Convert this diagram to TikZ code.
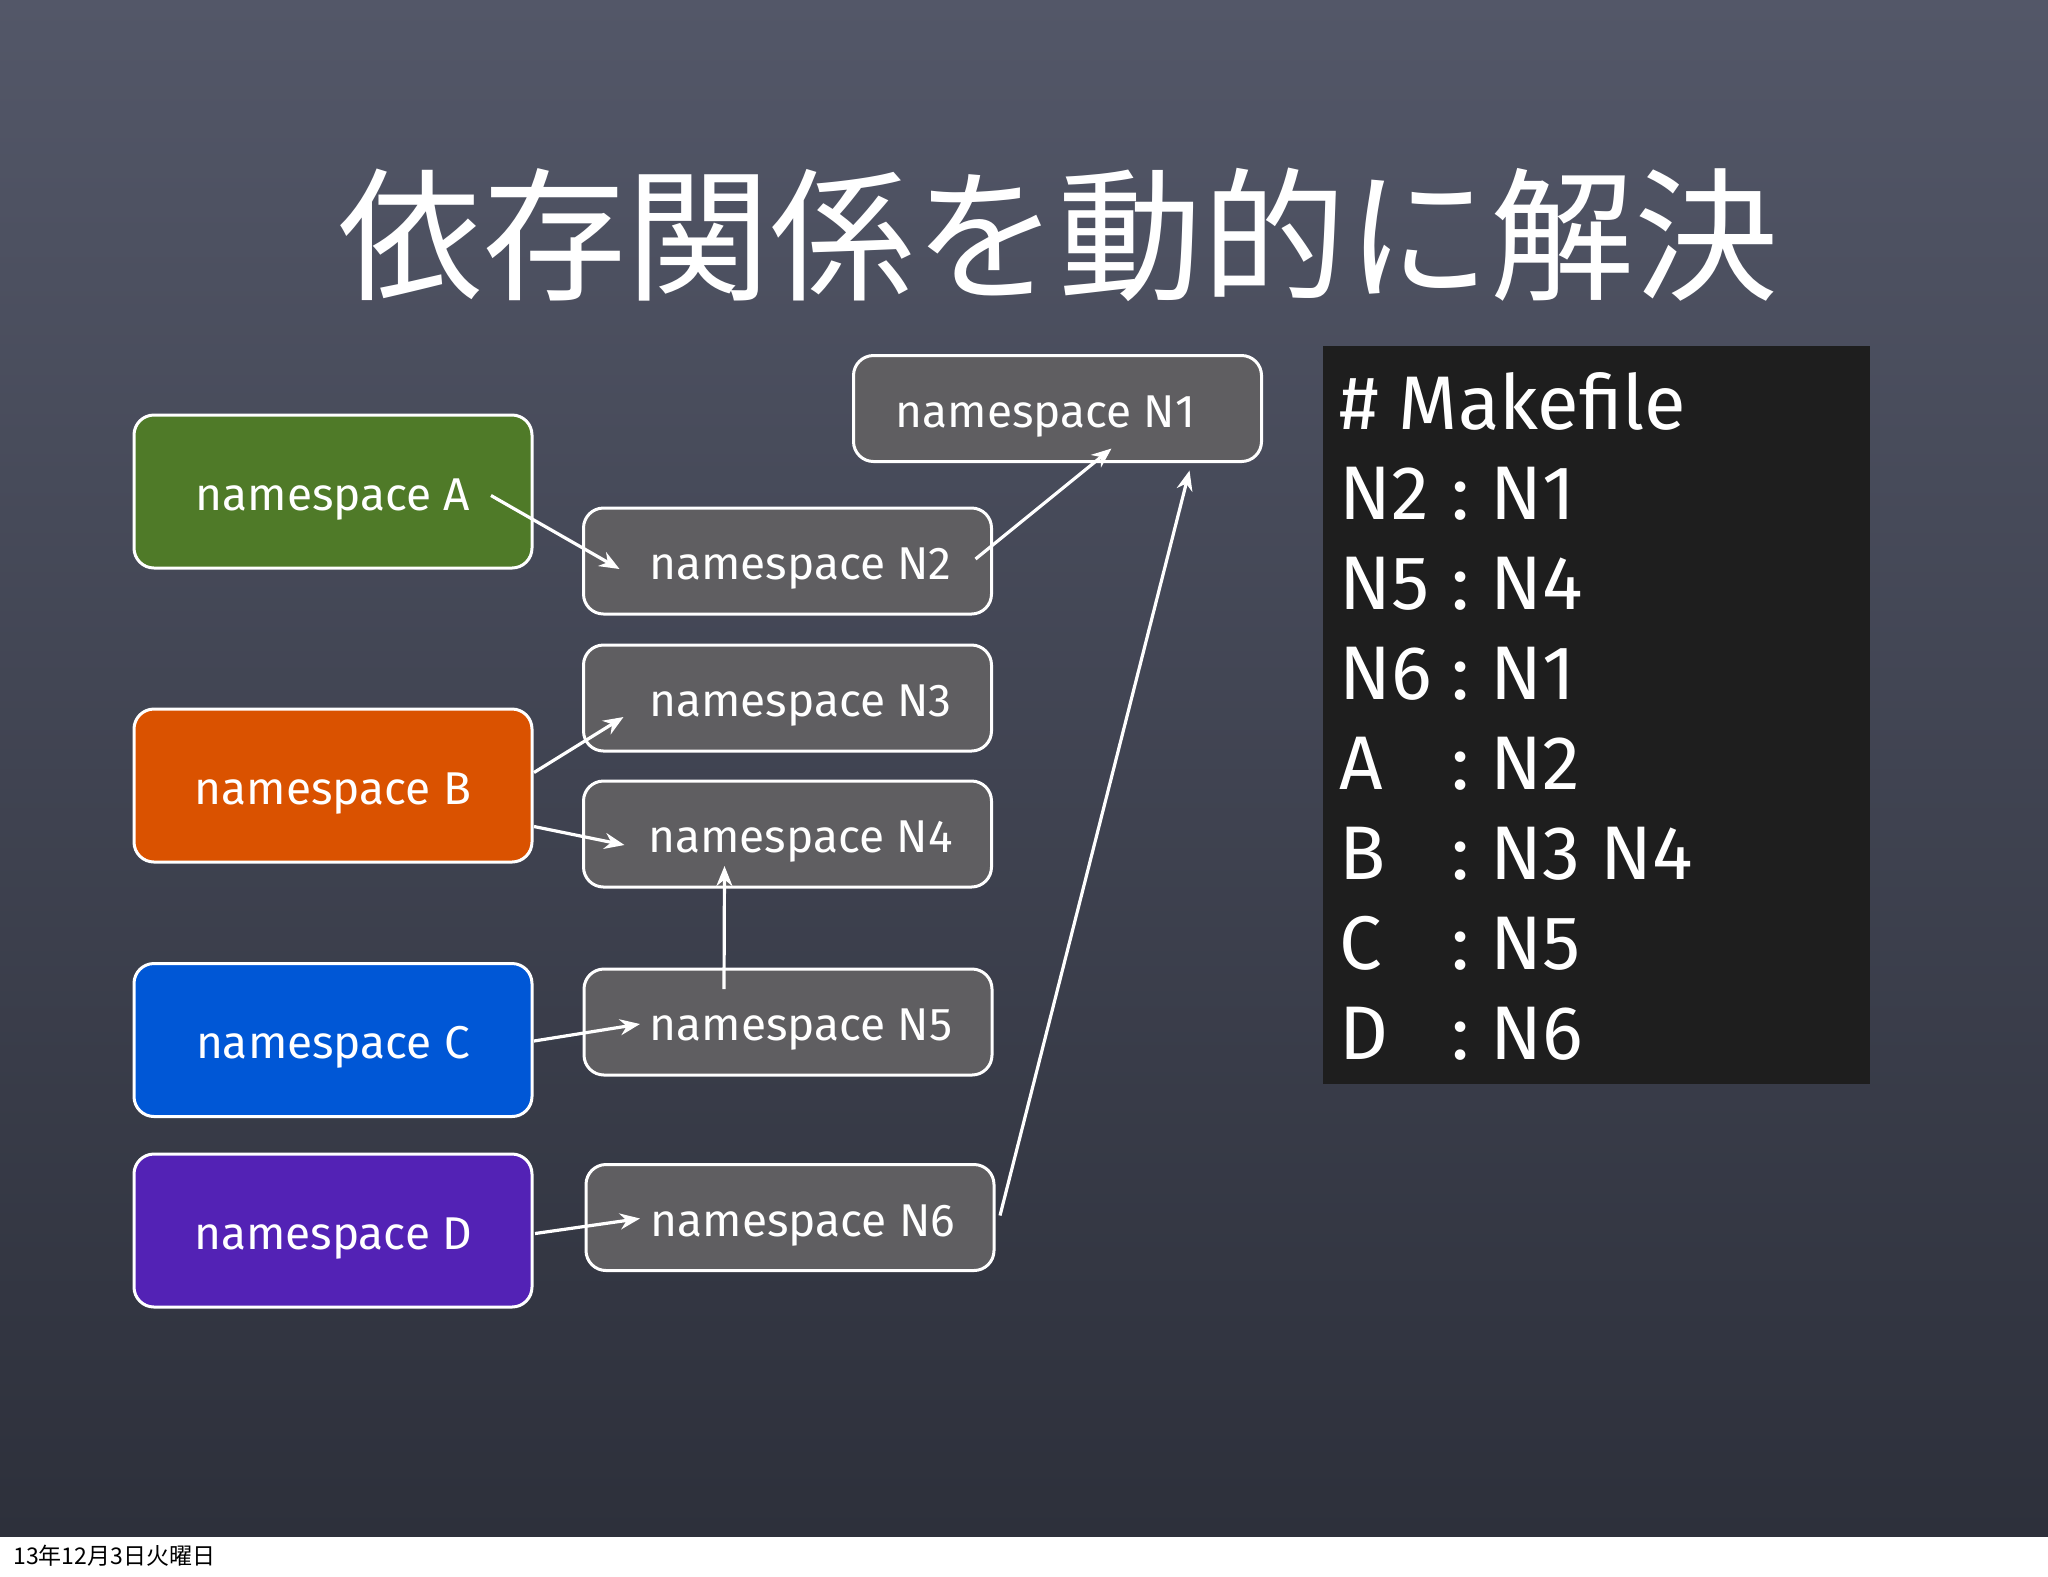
\documentclass[tikz,border=0pt]{standalone}
\usepackage{fontspec}
\setmainfont{Fira Sans}
\newfontfamily\jpfont{Noto Sans CJK JP}
\usetikzlibrary{arrows.meta}
\usetikzlibrary{positioning, calc}

\definecolor{boardtop}{HTML}{535768}
\definecolor{boardmid}{HTML}{4B4F5D}
\definecolor{boardbottom}{HTML}{2D303B}
\definecolor{nsgreen}{HTML}{4F7A28}
\definecolor{nsorange}{HTML}{DA5200}
\definecolor{nsblue}{HTML}{0057D6}
\definecolor{nspurple}{HTML}{5322B5}
\definecolor{nsgray}{HTML}{5F5E61}
\definecolor{makebg}{HTML}{1E1E1E}

\tikzset{
    nsbox/.style={rectangle, rounded corners=10pt, draw=white, line width=1.5pt, text=white,
        minimum width=199pt, minimum height=76.5pt, text height=22pt, text depth=3.5pt,
        font=\fontsize{23}{27}\selectfont},
    nsnode/.style={nsbox, fill=nsgray, minimum width=204pt, minimum height=53pt,
        execute at begin node={\hspace{13pt}}},
    nstop/.style={nsbox, fill=nsgray, minimum width=204pt, minimum height=53pt,
        execute at end node={\hspace{12pt}}},
    dep/.style={->, draw=white, line width=1.6pt},
}

\begin{document}
\begin{tikzpicture}[x=0.5pt, y=-0.5pt, >={Stealth[length=10pt, width=8pt]}]

            % Board
            \useasboundingbox (0,0) rectangle (2048,1576);
            \shade[top color=boardtop, middle color=boardmid, bottom color=boardbottom] (0,0) rectangle (2048,1537);
            \fill[white] (0,1537) rectangle (2048,1576);
            \node[anchor=west, inner sep=0pt, font=\jpfont\fontsize{11.5}{14}\selectfont] (date) at (13,1556) {13年12月3日火曜日};

            % Title
            \node[text=white, font=\jpfont\fontsize{72}{80}\selectfont] (title) at (1058,235) {依存関係を動的に解決};

            % Namespaces A to D
            \node[nsbox, fill=nsgreen] (A) at (333,491.5) {namespace A};
            \node[nsbox, fill=nsorange] (B) at (333,785.5) {namespace B};
            \node[nsbox, fill=nsblue] (C) at (333,1040) {namespace C};
            \node[nsbox, fill=nspurple] (D) at (333,1230.5) {namespace D};

            % Namespaces N1 to N6
            \node[nstop] (N1) at (1057.5,408.5) {namespace N1};
            \node[nsnode] (N2) at (787.5,561) {namespace N2};
            \node[nsnode] (N3) at (787.5,698) {namespace N3};
            \node[nsnode] (N4) at (787.5,834) {namespace N4};
            \node[nsnode] (N5) at (788,1022) {namespace N5};
            \node[nsnode] (N6) at (790,1217.5) {namespace N6};

            % Makefile
            \node[fill=makebg, minimum width=273.5pt, minimum height=369pt, anchor=north west] (makefile) at (1323,346) {};
            \node[anchor=north west, inner sep=0pt, text=white, font=\fontsize{38}{45}\selectfont] (rules) at ($(makefile.north west)+(16,20)$) {%
                \begin{tabular}{@{}l@{\ :\ }l@{}}
                \multicolumn{2}{@{}l@{}}{\# Makefile}\\
                N2 & N1\\
                N5 & N4\\
                N6 & N1\\
                A & N2\\
                B & N3 N4\\
                C & N5\\
                D & N6
                \end{tabular}};

            % Dependencies
            \draw[dep] ($(A)+(158,4)$) -- ($(N2)+(-168,8)$);
            \draw[dep] ($(N2)+(188,-2)$) -- ($(N1)+(54,40)$);
            \draw[dep] ($(B)+(201,-13)$) -- ($(N3)+(-164,19)$);
            \draw[dep] ($(B)+(201,41)$) -- ($(N4)+(-163,11)$);
            \draw[dep] ($(C)+(201,1)$) -- ($(N5)+(-148,2)$);
            \draw[dep] ($(D)+(202,3)$) -- ($(N6)+(-150,1)$);
            \draw[dep] ($(N5)+(-64,-33)$) -- ($(N4)+(-63,32)$);
            \draw[dep] ($(N6)+(210,-2)$) -- ($(N1)+(132,62)$);

        \end{tikzpicture}
\end{document}
